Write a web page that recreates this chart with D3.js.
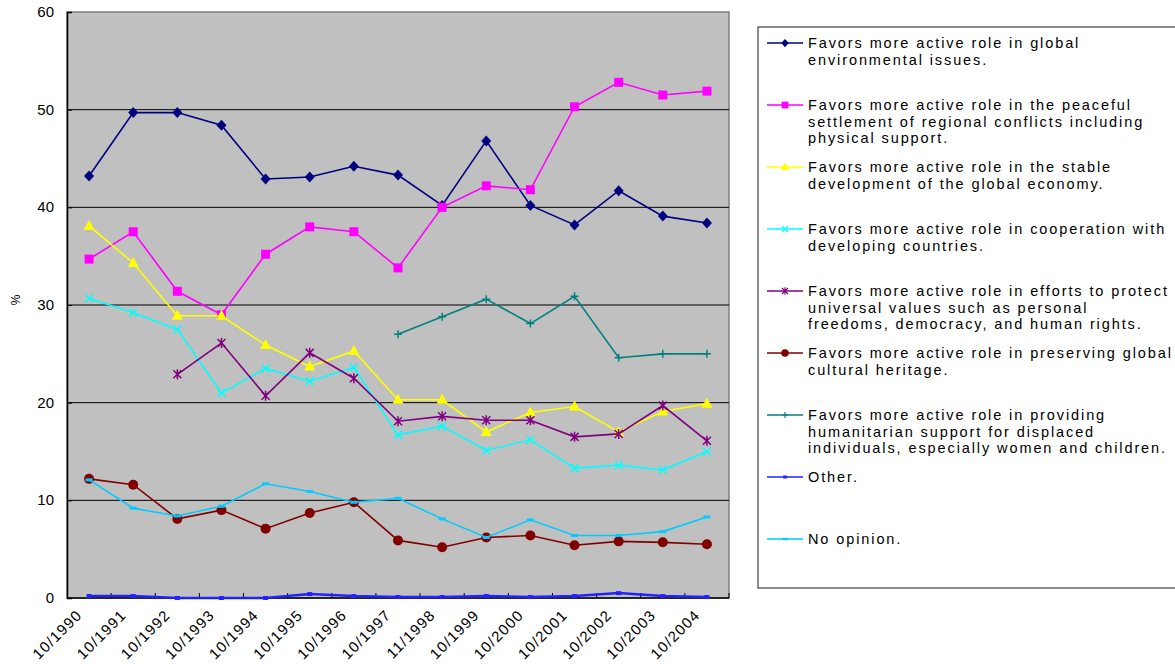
<!DOCTYPE html>
<html>
<head>
<meta charset="utf-8">
<script src="https://cdn.jsdelivr.net/npm/d3@7"></script>
<style>
  body { margin: 0; background: #fff; }
  svg text { font-family: "Liberation Sans", Arial, sans-serif; fill: #000; }
  .legend-text { font-size: 14.5px; letter-spacing: 1.9px; }
  .tick-label { font-size: 15px; }
</style>
</head>
<body>
<svg id="chart" width="1175" height="668"></svg>
<script>

// survey waves
var waves = ["10/1990", "10/1991", "10/1992", "10/1993", "10/1994", "10/1995", "10/1996", "10/1997",
             "11/1998", "10/1999", "10/2000", "10/2001", "10/2002", "10/2003", "10/2004"];

var y_ticks = [0, 10, 20, 30, 40, 50, 60];

// series values (%), null = not asked that year
var environment  = [43.2, 49.7, 49.7, 48.4, 42.9, 43.1, 44.2, 43.3, 40.2, 46.8, 40.2, 38.2, 41.7, 39.1, 38.4];
var peacekeeping = [34.7, 37.5, 31.4, 29.0, 35.2, 38.0, 37.5, 33.8, 40.0, 42.2, 41.8, 50.3, 52.8, 51.5, 51.9];
var economy      = [38.1, 34.3, 28.9, 28.9, 25.9, 23.7, 25.3, 20.3, 20.3, 17.0, 19.0, 19.6, 17.0, 19.1, 19.9];
var developing   = [30.7, 29.2, 27.5, 21.0, 23.5, 22.2, 23.6, 16.7, 17.6, 15.1, 16.2, 13.3, 13.6, 13.1, 15.0];
var values_prot  = [null, null, 22.9, 26.1, 20.7, 25.1, 22.5, 18.1, 18.6, 18.2, 18.2, 16.5, 16.8, 19.7, 16.1];
var heritage     = [12.2, 11.6, 8.1, 9.0, 7.1, 8.7, 9.8, 5.9, 5.2, 6.2, 6.4, 5.4, 5.8, 5.7, 5.5];
var humanitarian = [null, null, null, null, null, null, null, 27.0, 28.8, 30.6, 28.1, 30.9, 24.6, 25.0, 25.0];
var other        = [0.2, 0.2, 0.0, 0.0, 0.0, 0.4, 0.2, 0.1, 0.1, 0.2, 0.1, 0.2, 0.5, 0.2, 0.1];
var no_opinion   = [12.1, 9.2, 8.4, 9.4, 11.7, 10.9, 9.8, 10.2, 8.1, 6.2, 8.0, 6.4, 6.4, 6.8, 8.3];

var series = [
    {name: ["Favors more active role in global", "environmental issues."], values: environment, color: "#000080", marker: "diamond"},
    {name: ["Favors more active role in the peaceful", "settlement of regional conflicts including", "physical support."], values: peacekeeping, color: "#FF00FF", marker: "square"},
    {name: ["Favors more active role in the stable", "development of the global economy."], values: economy, color: "#FFFF00", marker: "triangle"},
    {name: ["Favors more active role in cooperation with", "developing countries."], values: developing, color: "#00FFFF", marker: "x"},
    {name: ["Favors more active role in efforts to protect", "universal values such as personal", "freedoms, democracy, and human rights."], values: values_prot, color: "#800080", marker: "star"},
    {name: ["Favors more active role in preserving global", "cultural heritage."], values: heritage, color: "#800000", marker: "circle"},
    {name: ["Favors more active role in providing", "humanitarian support for displaced", "individuals, especially women and children."], values: humanitarian, color: "#008080", marker: "plus"},
    {name: ["Other."], values: other, color: "#2222FF", marker: "small"},
    {name: ["No opinion."], values: no_opinion, color: "#00CCFF", marker: "dash"}
];

var svg = d3.select("#chart");

var plot_left = 67, plot_right = 729, plot_top = 12, plot_bottom = 598;

var x = d3.scaleBand()
          .domain(waves)
          .range([plot_left, plot_right]);

var y = d3.scaleLinear()
          .domain([0, 60])
          .range([plot_bottom, plot_top]);

// plot area
svg.append("rect")
   .attr("x", plot_left)
   .attr("y", plot_top)
   .attr("width", plot_right - plot_left)
   .attr("height", plot_bottom - plot_top)
   .attr("fill", "#C0C0C0")
   .attr("stroke", "#808080")
   .attr("stroke-width", 1.5);

// gridlines
svg.selectAll("line.grid")
   .data(y_ticks.filter(d => d > 0 && d < 60))
   .enter()
   .append("line")
   .attr("class", "grid")
   .attr("x1", plot_left)
   .attr("x2", plot_right)
   .attr("y1", d => y(d))
   .attr("y2", d => y(d))
   .attr("stroke", "#000")
   .attr("stroke-width", 1);

// y axis
var y_axis = svg.append("g")
                .attr("transform", "translate(" + plot_left + ",0)")
                .call(d3.axisRight(y).tickValues(y_ticks).tickSize(5).tickFormat(""));
y_axis.select(".domain").attr("stroke", "#000").attr("stroke-width", 1.5);

svg.selectAll("text.ylab")
   .data(y_ticks)
   .enter()
   .append("text")
   .attr("class", "tick-label")
   .attr("text-anchor", "end")
   .attr("x", 54)
   .attr("y", d => y(d) + 5)
   .text(d => d);

svg.append("text")
   .attr("transform", "translate(20,300) rotate(-90)")
   .attr("text-anchor", "middle")
   .style("font-size", "12px")
   .text("%");

// x axis (ticks on band boundaries)
var x_axis = svg.append("g")
                .attr("transform", "translate(0," + plot_bottom + ")");
x_axis.append("line")
      .attr("x1", plot_left).attr("x2", plot_right)
      .attr("stroke", "#000").attr("stroke-width", 1.5);
x_axis.selectAll("line.xt")
      .data(waves)
      .enter()
      .append("line")
      .attr("class", "xt")
      .attr("x1", d => x(d) + x.bandwidth())
      .attr("x2", d => x(d) + x.bandwidth())
      .attr("y1", 0)
      .attr("y2", -5)
      .attr("stroke", "#000");

svg.selectAll("text.xlab")
   .data(waves)
   .enter()
   .append("text")
   .attr("class", "tick-label")
   .attr("text-anchor", "end")
   .style("letter-spacing", "1.2px")
   .attr("transform", d => "translate(" + (x(d) + x.bandwidth() / 2 - 6) + ",616) rotate(-45)")
   .text(d => d);

// marker shapes
function draw_marker(g, type, color) {
    switch (type) {
        case "diamond":
            g.append("path").attr("d", "M0,-5.5L5,0L0,5.5L-5,0Z").attr("fill", color);
            break;
        case "square":
            g.append("rect").attr("x", -4.5).attr("y", -4.5).attr("width", 9).attr("height", 9).attr("fill", color);
            break;
        case "triangle":
            g.append("path").attr("d", "M0,-6L5.5,4L-5.5,4Z").attr("fill", color);
            break;
        case "x":
            g.append("path").attr("d", "M-4,-4L4,4M-4,4L4,-4").attr("stroke", color).attr("stroke-width", 1.5);
            break;
        case "star":
            g.append("path").attr("d", "M-4,-4L4,4M-4,4L4,-4M0,-5L0,5").attr("stroke", color).attr("stroke-width", 1.5);
            break;
        case "circle":
            g.append("circle").attr("r", 5).attr("fill", color);
            break;
        case "plus":
            g.append("path").attr("d", "M-4,0L4,0M0,-4L0,4").attr("stroke", color).attr("stroke-width", 1.5);
            break;
        case "small":
            g.append("rect").attr("x", -2.5).attr("y", -2).attr("width", 5).attr("height", 4).attr("fill", color);
            break;
        case "dash":
            g.append("rect").attr("x", -3.5).attr("y", -1.5).attr("width", 7).attr("height", 3).attr("fill", color);
            break;
    }
}

var line = d3.line()
             .defined(d => d[1] !== null)
             .x(d => x(d[0]) + x.bandwidth() / 2)
             .y(d => y(d[1]));

series.forEach(function(s) {
    var data = waves.map((w, i) => [w, s.values[i]]);

    svg.append("path")
       .datum(data)
       .attr("class", "line")
       .attr("fill", "none")
       .attr("stroke", s.color)
       .attr("stroke-width", s.marker == "small" ? 2.5 : 1.6)
       .attr("d", line);

    data.filter(d => d[1] !== null).forEach(function(d) {
        var g = svg.append("g")
                   .attr("transform", "translate(" + (x(d[0]) + x.bandwidth() / 2) + "," + y(d[1]) + ")");
        draw_marker(g, s.marker, s.color);
    });
});

// legend
svg.append("rect")
   .attr("x", 758)
   .attr("y", 27)
   .attr("width", 430)
   .attr("height", 561)
   .attr("fill", "#fff")
   .attr("stroke", "#404040")
   .attr("stroke-width", 1.2);

series.forEach(function(s, i) {
    var ly = 43 + i * 62;
    svg.append("line")
       .attr("x1", 767).attr("x2", 803)
       .attr("y1", ly).attr("y2", ly)
       .attr("stroke", s.color)
       .attr("stroke-width", 1.3);
    var g = svg.append("g").attr("transform", "translate(785," + ly + ") scale(0.75)");
    draw_marker(g, s.marker, s.color);

    svg.append("text")
       .attr("class", "legend-text")
       .selectAll("tspan")
       .data(s.name)
       .enter()
       .append("tspan")
       .attr("x", 808)
       .attr("y", (d, j) => ly + 5 + j * 16.7)
       .text(d => d);
});

</script>
</body>
</html>
